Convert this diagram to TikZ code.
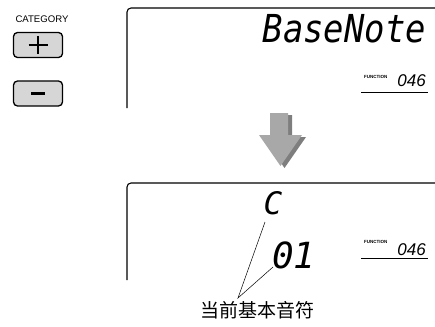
\documentclass[tikz,border=0pt]{standalone}
\usepackage{fontspec}
\setmainfont{Liberation Sans}
\newfontfamily\lcdfont{DejaVu Sans Mono}
\newfontfamily\cjk{Noto Sans CJK SC}
\usepackage{tikz}
\usepackage{xcolor}

\definecolor{btngray}{HTML}{D6D6D6}
\definecolor{arrlight}{HTML}{A8A8A8}
\definecolor{arrdark}{HTML}{7E7E7E}

\tikzset{
  btn/.style={draw,line width=1.3pt,fill=btngray,rounded corners=4pt,
    minimum width=49pt,minimum height=25pt,inner sep=0pt},
  lcd/.style={line width=1.1pt,rounded corners=4pt},
  fnlabel/.style={inner sep=0pt,font=\fontsize{4.5}{5}\selectfont\bfseries},
  fnnum/.style={inner sep=0pt,font=\fontsize{17}{18}\selectfont\itshape},
  seg/.style={inner sep=0pt,font=\lcdfont\itshape}
}

\begin{document}
\begin{tikzpicture}[x=1pt,y=-1pt]
        \useasboundingbox (0,0) rectangle (435,326);
        % category buttons
        \node[inner sep=0pt,font=\fontsize{9.6}{11}\selectfont] (cat) at (42,19) {CATEGORY};
        \node[btn] (plus) at (38,45) {};
        \node[btn] (minus) at (38,93.5) {};
        \draw[line width=2.8pt] (plus.center) +(-9.5,0) -- +(9.5,0) +(0,-9) -- +(0,9);
        \draw[line width=2.8pt] (minus.center) +(-7,0) -- +(7,0);
        % upper display
        \draw[lcd] (127,108) |- (435,8);
        \node[seg,anchor=base east,xscale=0.88,font=\lcdfont\itshape\fontsize{38.5}{40}\selectfont] (name) at (426,43) {BaseNote};
        \node[fnlabel,anchor=base west] (fn1) at (364,78.5) {FUNCTION};
        \node[fnnum,anchor=base east] (num1) at (426,86) {046};
        \draw[line width=0.8pt] (361,92) -- (428,92);
        % arrow
        \fill[arrdark] (274,115) -- (292,115) -- (292,137) -- (306,137) -- (284.5,168) -- (263,137) -- (274,137) -- cycle;
        \fill[arrlight] (270,113) -- (288,113) -- (288,135) -- (302,135) -- (280.5,166) -- (259,135) -- (270,135) -- cycle;
        % lower display
        \draw[lcd] (127,280) |- (435,183);
        \node[seg,font=\lcdfont\itshape\fontsize{31}{33}\selectfont] (note) at (273,203) {C};
        \node[seg,anchor=base west,font=\lcdfont\itshape\fontsize{36}{38}\selectfont] (oct) at (272,268) {01};
        \node[fnlabel,anchor=base west] (fn2) at (364,243) {FUNCTION};
        \node[fnnum,anchor=base east] (num2) at (426,255) {046};
        \draw[line width=0.8pt] (361,258) -- (428,258);
        % callout
        \node[inner sep=0pt,font=\cjk\fontsize{19}{21}\selectfont] (lbl) at (257,310) {当前基本音符};
        \coordinate (apex) at (238,298);
        \coordinate (ctip) at (265,222);
        \coordinate (otip) at (273,267);
        \draw[line width=0.5pt] (ctip) -- (apex) -- (otip);
      \end{tikzpicture}
\end{document}
